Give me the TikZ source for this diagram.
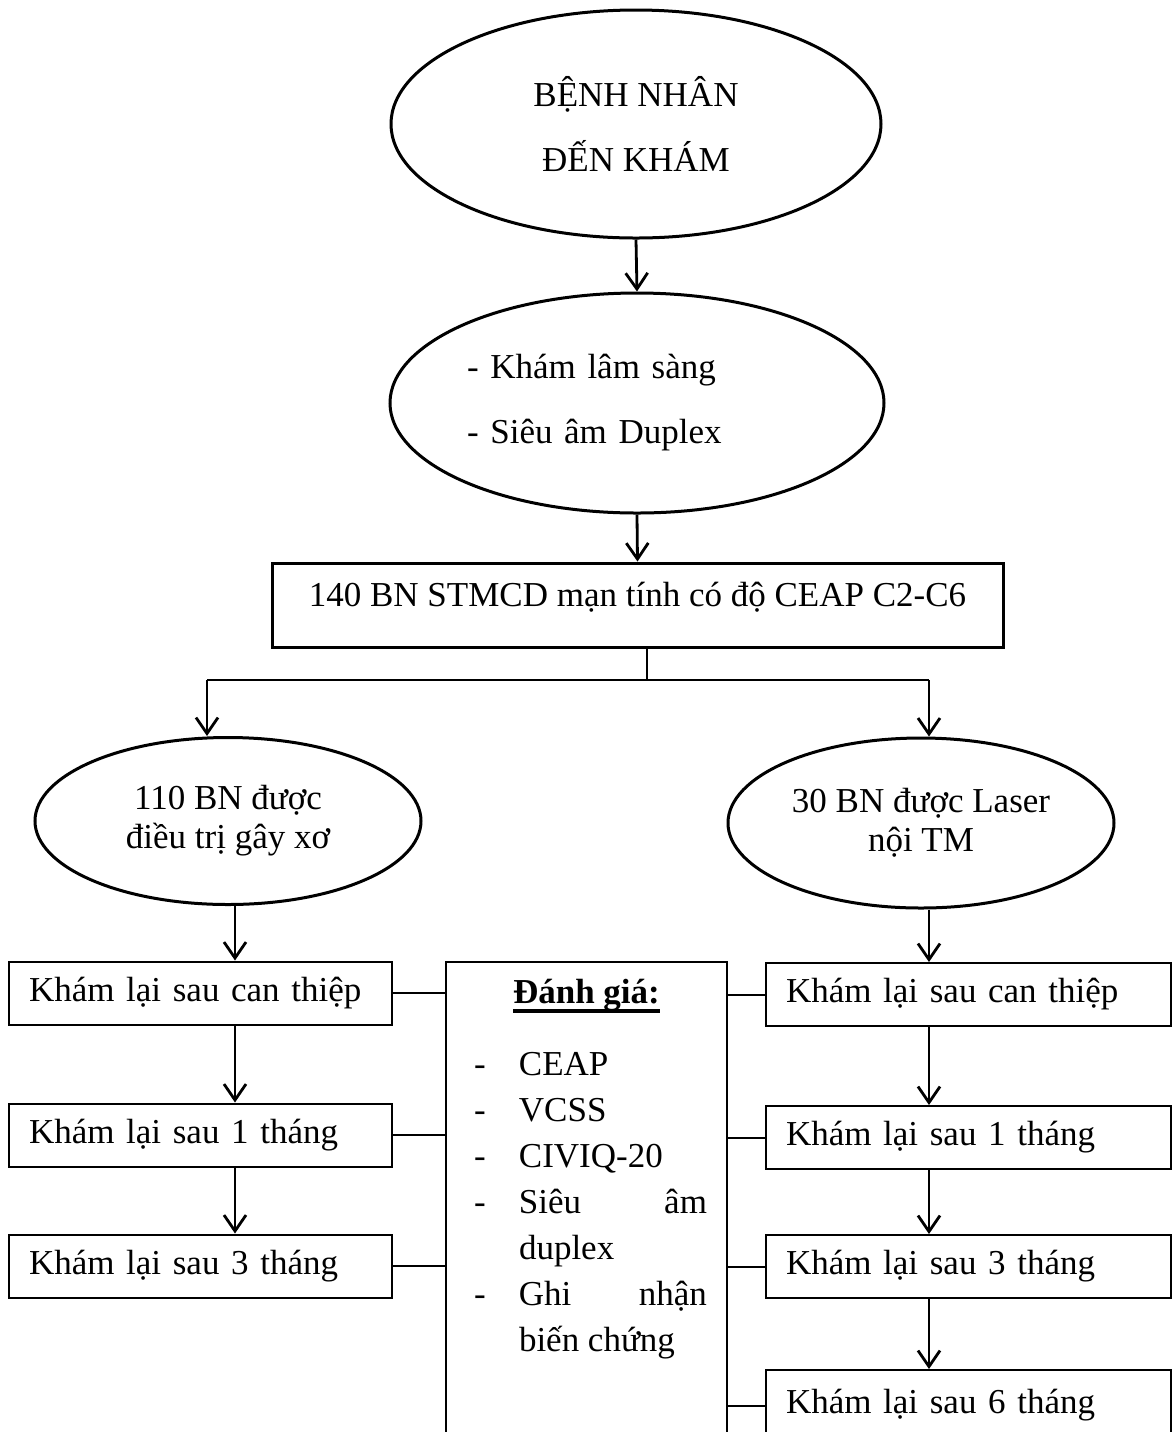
\documentclass[tikz,border=0pt]{standalone}
\usepackage{fontspec}
\setmainfont{Liberation Serif}
\usetikzlibrary{shapes.geometric,arrows.meta,calc}
\newcommand\thickul[1]{\setbox0\hbox{#1}\rlap{\rule[-5pt]{\wd0}{2pt}}\box0}

\begin{document}
\begin{tikzpicture}[x=0.5pt, y=-0.5pt,
    oval/.style={draw, ellipse, line width=1.5pt, inner sep=0pt, align=center},
    cohortbox/.style={draw, rectangle, line width=1.5pt, inner sep=4pt, text height=17.5pt, text depth=16.5pt},
    visit/.style={draw, rectangle, line width=1pt, minimum height=31.5pt, inner xsep=10pt, inner ysep=0pt, align=left},
    link/.style={line width=1pt},
    arr/.style={line width=1.4pt, -{Straight Barb[length=8pt, width=11pt]}},
    font=\fontsize{17.5pt}{21pt}\selectfont]
    \useasboundingbox (0,0) rectangle (1176,1432);

    % intake and examination
    \node[oval, minimum width=245pt, minimum height=114pt, font=\fontsize{17.5pt}{32.5pt}\selectfont] (intake) at (636,124) {BỆNH NHÂN\\ĐẾN KHÁM};
    \node[oval, minimum width=247pt, minimum height=110pt, text width=170pt, align=left, font=\fontsize{17.5pt}{32.5pt}\selectfont] (exam) at (637,403) {- Khám lâm sàng\\- Siêu âm Duplex};
    \node[cohortbox, minimum width=365.5pt] (cohort) at (637.5,605) {140 BN STMCD mạn tính có độ CEAP C2-C6};
    \draw[arr] (intake.south) -- (exam.north);
    \draw[arr] (exam.south) -- (cohort.north);

    % split into the two groups
    \coordinate (br-mid) at (647,680);
    \coordinate (br-left) at (207,680);
    \coordinate (br-right) at (929,680);
    \draw[line width=1.4pt] (cohort.south -| br-mid) -- (br-mid);
    \draw[line width=1.4pt] (br-left) -- (br-right);

    \node[oval, minimum width=193pt, minimum height=83.5pt, font=\fontsize{17.5pt}{19.5pt}\selectfont] (sclero) at (228,821) {110 BN được\\điều trị gây xơ};
    \node[oval, minimum width=193pt, minimum height=85pt, font=\fontsize{17.5pt}{19.5pt}\selectfont] (laser) at (921,823) {30 BN được Laser\\nội TM};
    \draw[arr] (br-left) -- (br-left |- sclero.north);
    \draw[arr] (br-right) -- (br-right |- laser.north);

    % follow-up, sclerotherapy
    \coordinate (col-l) at (235,0);
    \node[visit, text width=171.5pt] (l-post) at (200.5,993) {Khám lại sau can thiệp};
    \node[visit, text width=171.5pt] (l-1m) at (200.5,1135) {Khám lại sau 1 tháng};
    \node[visit, text width=171.5pt] (l-3m) at (200.5,1266) {Khám lại sau 3 tháng};
    \draw[arr] (sclero.south -| col-l) -- (l-post.north -| col-l);
    \draw[arr] (l-post.south -| col-l) -- (l-1m.north -| col-l);
    \draw[arr] (l-1m.south -| col-l) -- (l-3m.north -| col-l);

    % follow-up, laser
    \coordinate (col-r) at (929,0);
    \node[visit, text width=182.5pt] (r-post) at (968.5,994.5) {Khám lại sau can thiệp};
    \node[visit, text width=182.5pt] (r-1m) at (968.5,1137.5) {Khám lại sau 1 tháng};
    \node[visit, text width=182.5pt] (r-3m) at (968.5,1266.5) {Khám lại sau 3 tháng};
    \node[visit, text width=182.5pt, minimum height=35.5pt, anchor=north] (r-6m) at (968.5,1369) {Khám lại sau 6 tháng};
    \draw[arr] (laser.south -| col-r) -- (r-post.north -| col-r);
    \draw[arr] (r-post.south -| col-r) -- (r-1m.north -| col-r);
    \draw[arr] (r-1m.south -| col-r) -- (r-3m.north -| col-r);
    \draw[arr] (r-3m.south -| col-r) -- (r-6m.north -| col-r);

    % evaluation criteria
    \node[draw, line width=1.2pt, inner sep=0pt, anchor=north, font=\fontsize{17.5pt}{23pt}\selectfont] (eval) at (586.5,961) {\parbox[t][240pt][t]{140.5pt}{%
        \begin{tabular}[t]{@{\hspace{14pt}}p{22.5pt}@{}p{94pt}@{\hspace{10pt}}}
        \multicolumn{2}{@{}c@{}}{\rule{0pt}{20.5pt}\thickul{\textbf{Đánh giá:}}}\\[13pt]
        - & CEAP\\
        - & VCSS\\
        - & CIVIQ-20\\
        - & Siêu\hfill âm\\
          & duplex\\
        - & Ghi\hfill nhận\\
          & biến chứng
        \end{tabular}}};

    \draw[link] (l-post.east) -- (l-post.east -| eval.west);
    \draw[link] (l-1m.east) -- (l-1m.east -| eval.west);
    \draw[link] (l-3m.east) -- (l-3m.east -| eval.west);
    \draw[link] (eval.east |- r-post.west) -- (r-post.west);
    \draw[link] (eval.east |- r-1m.west) -- (r-1m.west);
    \draw[link] (eval.east |- r-3m.west) -- (r-3m.west);
    \draw[link] (eval.east |- r-6m.west) -- (r-6m.west);
\end{tikzpicture}
\end{document}
